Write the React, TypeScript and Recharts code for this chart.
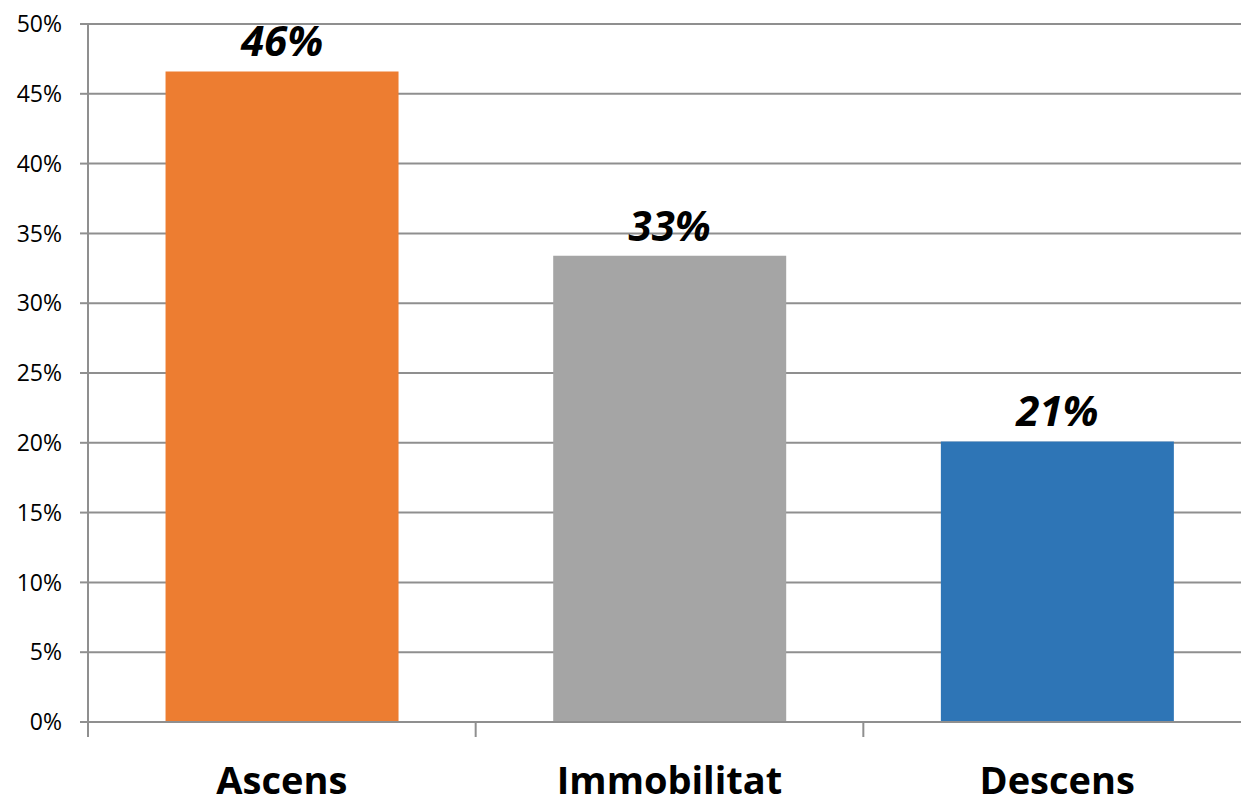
import React from 'react';
import { BarChart, Bar, XAxis, YAxis, CartesianGrid, Cell, LabelList } from 'recharts';

const categories = ['Ascens', 'Immobilitat', 'Descens'];
const values = [46.6, 33.4, 20.1];
const valueLabels = ['46%', '33%', '21%'];
const colors = ['#ED7D31', '#A5A5A5', '#2E75B6'];
const yTicks = [0, 5, 10, 15, 20, 25, 30, 35, 40, 45, 50];

const data = categories.map((c, i) => ({ name: c, value: values[i], label: valueLabels[i] }));

const W = 1262;
const H = 804;
const MARGIN = { top: 24, right: 11, bottom: 0, left: 0 };
const Y_W = 88;
const BAND = (W - MARGIN.left - MARGIN.right - Y_W) / categories.length;
const GRID = '#8f8f8f';
const FONT = '"Open Sans", Lato, sans-serif';

const XTick = (props: any) => {
  const { x, y, payload } = props;
  return (
    <g>
      <line x1={x - BAND / 2} x2={x - BAND / 2} y1={y} y2={y + 15} stroke={GRID} strokeWidth={2} />
      <text x={x} y={y + 72} textAnchor="middle" fontFamily={FONT} fontWeight={700} fontSize={38} fill="#000">
        {payload.value}
      </text>
    </g>
  );
};

const ValueLabel = (props: any) => {
  const { x, y, width, value } = props;
  return (
    <text x={x + width / 2} y={y - 15} textAnchor="middle" fontFamily={FONT} fontWeight={700} fontStyle="italic" fontSize={42} fill="#000">
      {value}
    </text>
  );
};

export default function App() {
  return (
    <div style={{ position: 'absolute', left: 0, top: 0, width: 1241, height: 804, overflow: 'hidden', background: '#fff' }}>
      <BarChart width={W} height={H} data={data} margin={MARGIN} barCategoryGap="20%">
        <CartesianGrid vertical={false} stroke={GRID} strokeWidth={2} />
        <XAxis
          dataKey="name"
          height={H - 722}
          tickSize={0}
          tickMargin={0}
          tickLine={false}
          axisLine={{ stroke: GRID, strokeWidth: 2 }}
          tick={<XTick />}
          interval={0}
        />
        <YAxis
          width={Y_W}
          domain={[0, 50]}
          ticks={yTicks}
          interval={0}
          tickFormatter={(v: number) => `${v}%`}
          tickSize={8}
          tickMargin={18}
          tickLine={{ stroke: GRID, strokeWidth: 2 }}
          axisLine={{ stroke: GRID, strokeWidth: 2 }}
          tick={{ fontFamily: FONT, fontSize: 23, fill: '#000' }}
        />
        <Bar dataKey="value" isAnimationActive={false}>
          {data.map((d, i) => (
            <Cell key={d.name} fill={colors[i]} />
          ))}
          <LabelList dataKey="label" content={<ValueLabel />} />
        </Bar>
      </BarChart>
    </div>
  );
}
